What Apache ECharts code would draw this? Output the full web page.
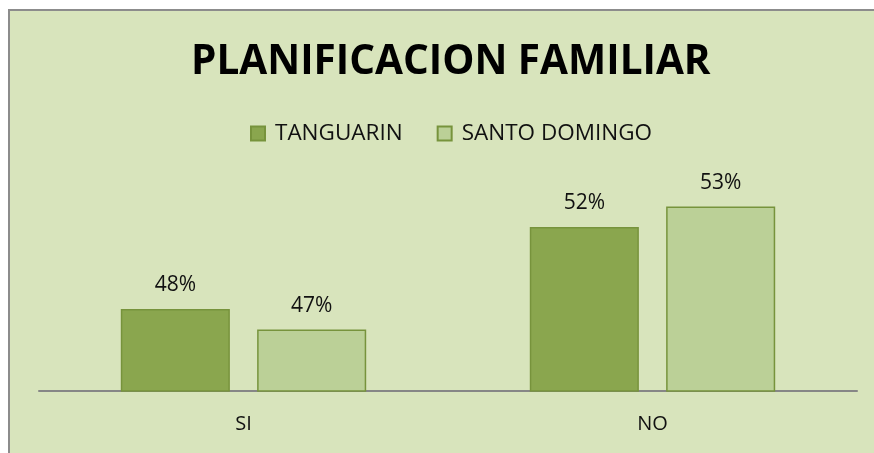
<!DOCTYPE html>
<html>
<head>
<meta charset="utf-8">
<script src="https://cdn.jsdelivr.net/npm/echarts@6/dist/echarts.min.js"></script>
<style>
  html, body { margin: 0; padding: 0; background: #fff; overflow: hidden; width: 874px; height: 453px; }
  #frame { position: absolute; left: 8px; top: 9px; width: 880px; height: 460px;
           background: #d8e4bc; border-left: 2px solid #8c8c8c; border-top: 2px solid #8c8c8c; }
  #chart { position: absolute; left: 0; top: 0; width: 874px; height: 453px; }
</style>
</head>
<body>
<div id="frame"></div>
<div id="chart"></div>
<script>
var categories = ['SI', 'NO'];
var tanguarin = [48, 52];
var santoDomingo = [47, 53];

(function () {
    var myChart = echarts.init(document.getElementById('chart'));
    var font = '"Open Sans", Lato, sans-serif';
    var label = {
        show: true,
        position: 'top',
        distance: 13,
        color: '#111',
        fontSize: 21,
        fontFamily: font,
        formatter: function (p) { return p.value + '%'; }
    };
    myChart.setOption({
        title: {
            text: 'PLANIFICACION FAMILIAR',
            left: 186,
            top: 37,
            textStyle: { fontSize: 40.5, fontWeight: 'bold', color: '#000', fontFamily: font }
        },
        legend: {
            top: 117,
            left: 245,
            itemWidth: 14,
            itemHeight: 14,
            itemGap: 34,
            icon: 'rect',
            textStyle: { fontSize: 22.5, color: '#111', fontFamily: font, padding: [0, 0, 0, 5] },
            data: ['TANGUARIN', 'SANTO DOMINGO']
        },
        grid: { left: 39, right: 17, top: 186, bottom: 62 },
        xAxis: {
            type: 'category',
            data: categories,
            axisLine: { lineStyle: { color: '#868686', width: 2 } },
            axisTick: { show: false },
            axisLabel: { fontSize: 20, color: '#111', margin: 23, fontFamily: font }
        },
        yAxis: {
            type: 'value',
            min: 44,
            max: 54,
            show: false,
            splitLine: { show: false }
        },
        series: [
            {
                name: 'TANGUARIN',
                type: 'bar',
                data: tanguarin,
                barGap: '25%',
                barCategoryGap: '40%',
                itemStyle: { color: '#8aa64e', borderColor: '#77933c', borderWidth: 1.5 },
                label: label
            },
            {
                name: 'SANTO DOMINGO',
                type: 'bar',
                data: santoDomingo,
                itemStyle: { color: '#bbd097', borderColor: '#77933c', borderWidth: 1.5 },
                label: label
            }
        ]
    });
})();
</script>
</body>
</html>
